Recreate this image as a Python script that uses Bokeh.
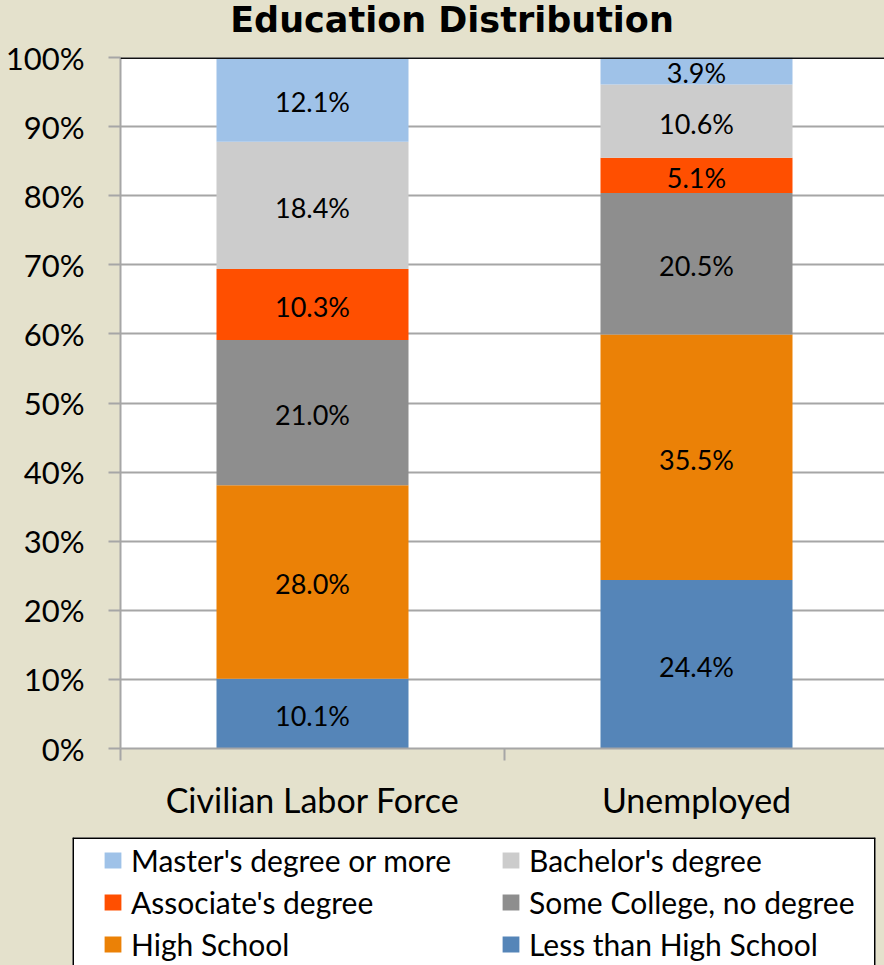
from bokeh.plotting import figure
from bokeh.models import ColumnDataSource, Range1d, FixedTicker, Span, Legend, LegendItem, Div
from bokeh.layouts import column
from bokeh.core.properties import value
from bokeh.embed import file_html
from bokeh.resources import INLINE

# ---- data ----
categories = ["Civilian Labor Force", "Unemployed"]
series_names = ["Less than High School", "High School", "Some College, no degree",
                "Associate's degree", "Bachelor's degree", "Master's degree or more"]
less_than_hs = [10.1, 24.4]
high_school = [28.0, 35.5]
some_college = [21.0, 20.5]
associates = [10.3, 5.1]
bachelors = [18.4, 10.6]
masters = [12.1, 3.9]
series_values = [less_than_hs, high_school, some_college, associates, bachelors, masters]
colors = ["#5585B8", "#EB8106", "#8E8E8E", "#FF4F00", "#CCCCCC", "#9FC2E8"]
y_ticks = [0, 10, 20, 30, 40, 50, 60, 70, 80, 90, 100]
y_tick_labels = [f"{t}%" for t in y_ticks]
title_text = "Education Distribution"

BG = "#E4E1CC"
FONT = "Lato"
GRID = "#A6A6A6"

x_pos = [i + 0.5 for i in range(len(categories))]

# ---- title ----
title_div = Div(text=title_text, width=884, height=37, margin=0,
                styles={"font-family": "DejaVu Sans", "font-weight": "bold", "font-size": "35px",
                        "line-height": "41px", "text-align": "center", "padding-left": "20px",
                        "box-sizing": "border-box", "color": "black",
                        "background-color": BG, "overflow": "visible", "white-space": "nowrap"})

# ---- main chart ----
p = figure(width=884, height=788, margin=0, frame_align=False,
           x_range=Range1d(0, 764 / 384), y_range=Range1d(0, 100),
           output_backend="svg", toolbar_location=None, title=None,
           min_border_left=120, min_border_right=0, min_border_top=20, min_border_bottom=77,
           border_fill_color=BG, background_fill_color="white", outline_line_color=None)

bottoms = [0.0] * len(categories)
lx, ly, lt = [], [], []
for name, vals, col in zip(series_names, series_values, colors):
    tops = [b + v for b, v in zip(bottoms, vals)]
    src = ColumnDataSource(dict(x=x_pos, bottom=bottoms, top=tops))
    p.vbar(x="x", bottom="bottom", top="top", width=0.5, source=src,
           fill_color=col, line_color=None)
    for xi, b, v in zip(x_pos, bottoms, vals):
        lx.append(xi)
        ly.append(b + v / 2)
        lt.append(f"{v:.1f}%")
    bottoms = tops

lab_src = ColumnDataSource(dict(x=lx, y=ly, t=lt))
p.text(x="x", y="y", text="t", source=lab_src, text_align="center", text_baseline="middle",
       y_offset=2, text_font=value(FONT), text_font_size="27px", text_color="black")

p.add_layout(Span(location=100, dimension="width", line_color="#111111", line_width=3))

p.xgrid.visible = False
p.ygrid.ticker = FixedTicker(ticks=y_ticks)
p.ygrid.grid_line_color = GRID
p.ygrid.grid_line_width = 2

ya = p.yaxis[0]
ya.ticker = FixedTicker(ticks=y_ticks)
ya.major_label_overrides = {t: l for t, l in zip(y_ticks, y_tick_labels)}
ya.major_label_text_font = FONT
ya.major_label_text_font_size = "31px"
ya.major_label_text_color = "black"
ya.major_label_standoff = 24
ya.major_tick_out = 12
ya.major_tick_in = 0
ya.major_tick_line_color = GRID
ya.major_tick_line_width = 2
ya.minor_tick_line_color = None
ya.axis_line_color = GRID
ya.axis_line_width = 2

xa = p.xaxis[0]
xa.ticker = FixedTicker(ticks=x_pos, minor_ticks=[0, 1, 2])
xa.major_label_overrides = {x: c for x, c in zip(x_pos, categories)}
xa.major_label_text_font = FONT
xa.major_label_text_font_size = "34px"
xa.major_label_text_color = "black"
xa.major_tick_out = 12
xa.major_tick_in = 0
xa.major_tick_line_color = None
xa.minor_tick_out = 12
xa.minor_tick_in = 0
xa.minor_tick_line_color = GRID
xa.minor_tick_line_width = 2
xa.major_label_standoff = 18
xa.axis_line_color = GRID
xa.axis_line_width = 2

# ---- legend panel (its white frame is the legend box) ----
lg = figure(width=884, height=140, margin=0, frame_align=False,
            x_range=Range1d(0, 1), y_range=Range1d(0, 1),
            output_backend="svg", toolbar_location=None, title=None,
            x_axis_location=None, y_axis_location=None,
            min_border_left=72, min_border_right=9, min_border_top=12, min_border_bottom=0,
            border_fill_color=BG, background_fill_color="white", outline_line_color=None)
lg.xgrid.visible = False
lg.ygrid.visible = False
# box sides (left, right, top); the bottom runs off the page
lg.add_layout(Span(location=0, dimension="height", line_color="black", line_width=3))
lg.add_layout(Span(location=1, dimension="height", line_color="black", line_width=3))
lg.add_layout(Span(location=1, dimension="width", line_color="black", line_width=3))

# zero-size swatch renderers that only carry the legend colours
swatch = {}
for name, col in zip(series_names, colors):
    swatch[name] = lg.vbar(x=[0.5], bottom=[0], top=[0], width=0,
                           fill_color=col, line_color=None)

legend_order = ["Master's degree or more", "Associate's degree", "High School",
                "Bachelor's degree", "Some College, no degree", "Less than High School"]
items = [LegendItem(label=n, renderers=[swatch[n]]) for n in legend_order]
legend = Legend(items=items, location=(30, 3), ncols=2, orientation="vertical",
                glyph_width=21, glyph_height=20, label_standoff=8, label_width=363,
                label_height=36, spacing=6, padding=0, margin=0,
                label_text_font=FONT, label_text_font_size="30px", label_text_color="black",
                border_line_color=None, background_fill_alpha=0.0)
lg.add_layout(legend, "center")

layout = column(title_div, p, lg, spacing=0, margin=0, styles={"background-color": BG})
html = file_html(layout, INLINE, title=title_text)
open("out.html", "w").write(html)
